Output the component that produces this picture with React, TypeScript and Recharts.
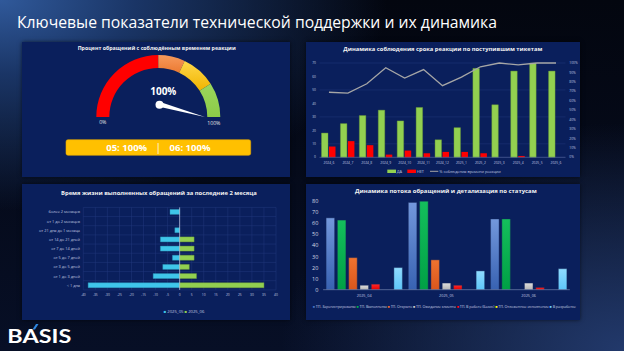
import React from "react";
import {
  BarChart,
  Bar,
  ComposedChart,
  Line,
  XAxis,
  YAxis,
  CartesianGrid,
  PieChart,
  Pie,
  Cell,
  ReferenceLine,
} from "recharts";

const FONT = "'Open Sans', 'Noto Sans', sans-serif";
const PANEL = "#0a1f5c";
const TICK = "#c4cbe0";
const GRID = "#22397c";

// gauge
const gaugeZones = ["red", "orange", "yellow", "green"];
const gaugeShares = [50, 14, 18, 18];
const gaugeFills = ["#ff0000", "url(#gzOrange)", "url(#gzYellow)", "url(#gzGreen)"];
const gaugeValue = 100;
const monthCodes = ["05", "06"];
const monthRates = [100, 100];

// reaction time by month
const months = [
  "2024_6", "2024_7", "2024_8", "2024_9", "2024_10", "2024_11", "2024_12",
  "2025_1", "2025_2", "2025_3", "2025_4", "2025_5", "2025_6",
];
const yesCounts = [18, 25, 31, 35, 27, 37, 13, 22, 66, 39, 64, 70, 64];
const noCounts = [8, 12, 9, 2, 5, 3, 4, 4, 3, 0, 1, 0, 0];
const onTimePct = [69, 68, 78, 95, 84, 93, 76, 85, 96, 100, 98, 100, 100];
const countTicks = [0, 10, 20, 30, 40, 50, 60, 70];
const pctTicks = [0, 10, 20, 30, 40, 50, 60, 70, 80, 90, 100];
const reactionNames = ["ДА", "НЕТ", "% соблюдения времени реакции"];

// lifetime of closed tickets
const lifeBuckets = [
  "более 2 месяцев",
  "от 1 до 2 месяцев",
  "от 21 дня до 1 месяца",
  "от 14 до 21 дней",
  "от 7 до 14 дней",
  "от 5 до 7 дней",
  "от 3 до 5 дней",
  "от 1 до 3 дней",
  "< 1 дня",
];
const lifeMay = [-4, 0, -2, -8, -8, -3, -7, -11, -38];
const lifeJune = [0, 0, 0, 6, 6, 6, 4, 7, 35];
const lifeTicks = [-40, -35, -30, -25, -20, -15, -10, -5, 0, 5, 10, 15, 20, 25, 30, 35, 40];
const lifeSeries = ["2025_05", "2025_06"];
const lifeColors = ["#3fc6ea", "#92d050"];

// ticket flow by status
const flowMonths = ["2025_04", "2025_05", "2025_06"];
const statusNames = [
  "ТП. Зарегистрированы",
  "ТП. Выполнены",
  "ТП. Открыто",
  "ТП. Ожидание клиента",
  "ТП. В работе (Базис)",
  "ТП. Отложенное исполнение",
  "В разработке",
];
const statusColors = ["#4472c4", "#00b050", "#ed6a2c", "#c8c8c8", "#ff0000", "#ffff00", "#66ccff"];
const statusFills = ["url(#fBlue)", "url(#fGreen)", "url(#fOrange)", "url(#fGray)", "url(#fRed)", "#ffff00", "url(#fSky)"];
const registered = [65, 79, 64];
const completed = [63, 80, 64];
const opened = [29, 27, 0];
const waiting = [4, 6, 6];
const inWork = [5, 4, 2];
const postponed = [0, 0, 0];
const inDev = [20, 17, 19];
const flowTicks = [0, 10, 20, 30, 40, 50, 60, 70, 80];

const reactionRows = months.map((m, i) => ({ m, yes: yesCounts[i], no: noCounts[i], pct: onTimePct[i] }));
const lifeRows = lifeBuckets.map((b, i) => ({ b, may: lifeMay[i], jun: lifeJune[i] }));
const flowSeries = [registered, completed, opened, waiting, inWork, postponed, inDev];
const flowRows = flowMonths.map((m, i) => {
  const row: any = { m };
  flowSeries.forEach((s, k) => (row["s" + k] = s[i]));
  return row;
});
const gaugeRows = gaugeZones.map((z, i) => ({ z, v: gaugeShares[i] }));

function Grads() {
  const g = (id: string, a: string, b: string) => (
    <linearGradient id={id} x1="0" y1="0" x2="0" y2="1">
      <stop offset="0%" stopColor={a} />
      <stop offset="100%" stopColor={b} />
    </linearGradient>
  );
  return (
    <svg width={0} height={0} style={{ position: "absolute" }}>
      <defs>
        {g("gzOrange", "#f79a5c", "#ec7a32")}
        {g("gzYellow", "#ffd84a", "#f0b400")}
        {g("gzGreen", "#9bd65c", "#8ccb48")}
        {g("fBlue", "#7398dc", "#3862b2")}
        {g("fGreen", "#14bf5c", "#00a045")}
        {g("fOrange", "#f0732f", "#d9561d")}
        {g("fGray", "#dedede", "#b4b4b4")}
        {g("fRed", "#ff2a2a", "#e40000")}
        {g("fSky", "#8fdbff", "#5ec6fa")}
      </defs>
    </svg>
  );
}

function Panel({ x, y, w, h, children }: any) {
  return (
    <div style={{ position: "absolute", left: x, top: y, width: w, height: h, background: PANEL, boxShadow: "0 0 4px rgba(0,0,0,0.6)" }}>
      {children}
    </div>
  );
}

function Overlay({ w, h, children }: any) {
  return (
    <svg width={w} height={h} style={{ position: "absolute", left: 0, top: 0, pointerEvents: "none" }} fontFamily={FONT}>
      {children}
    </svg>
  );
}

function PanelTitle({ x, y, len, text }: any) {
  return (
    <text x={x} y={y} textAnchor="middle" fontSize={6} fontWeight={700} fill="#f2f2f2" textLength={len} lengthAdjust="spacingAndGlyphs">
      {text}
    </text>
  );
}

// one-line category label (recharts would wrap long ones)
function BucketTick(p: any) {
  return (
    <text x={p.x} y={p.y} dy={1.4} textAnchor="end" fontSize={3.9} fill={TICK} fontFamily={FONT}>
      {p.payload.value}
    </text>
  );
}

// gauge geometry
const GW = 268;
const GH = 135;
const GCX = 136.3;
const GCY = 75;
const G_IN = 49;
const G_OUT = 62;

function GaugePanel() {
  const ang = ((180 - (gaugeValue / 100) * 180) * Math.PI) / 180;
  const tip = { x: GCX + 46.7 * Math.cos(ang), y: GCY - 46.7 * Math.sin(ang) };
  const piv = { x: GCX + 2.7, y: GCY - 12.3 };
  const dx = tip.x - piv.x;
  const dy = tip.y - piv.y;
  const len = Math.hypot(dx, dy);
  const nx = (-dy / len) * 2.3;
  const ny = (dx / len) * 2.3;
  const mid = (G_IN + G_OUT) / 2;
  return (
    <Panel x={22} y={42} w={GW} h={GH}>
      <PieChart width={GW} height={GH} margin={{ top: 0, right: 0, bottom: 0, left: 0 }}>
        <Pie
          data={gaugeRows}
          dataKey="v"
          cx={GCX}
          cy={GCY}
          innerRadius={G_IN}
          outerRadius={G_OUT}
          startAngle={180}
          endAngle={0}
          stroke="none"
          isAnimationActive={false}
        >
          {gaugeRows.map((r, i) => (
            <Cell key={r.z} fill={gaugeFills[i]} />
          ))}
        </Pie>
      </PieChart>
      <Overlay w={GW} h={GH}>
        <PanelTitle x={134.7} y={8} len={158} text="Процент обращений с соблюдённым временем реакции" />
        <text x={GCX - mid} y={81.5} textAnchor="middle" fontSize={5.2} fill="#e0e0e0">0%</text>
        <text x={GCX + mid} y={83} textAnchor="middle" fontSize={5.2} fill="#e0e0e0">100%</text>
        <text x={141.3} y={52.5} textAnchor="middle" fontSize={10} fontWeight={700} fill="#ffffff">{gaugeValue}%</text>
        <polygon
          points={`${piv.x + nx},${piv.y + ny} ${tip.x},${tip.y} ${piv.x - nx},${piv.y - ny}`}
          fill="#ffffff"
        />
        <circle cx={piv.x - 1.5} cy={piv.y} r={4} fill="#ffffff" />
        <rect x={44} y={97.7} width={184.7} height={15.6} rx={2} fill="#ffc000" stroke="#e6a800" strokeWidth={0.6} />
        <text x={104.7} y={108.9} textAnchor="middle" fontSize={9.5} fontWeight={700} fill="#ffffff">
          {monthCodes[0]}: {monthRates[0]}%
        </text>
        <text x={136.3} y={108.9} textAnchor="middle" fontSize={10} fill="#ffffff">|</text>
        <text x={168} y={108.9} textAnchor="middle" fontSize={9.5} fontWeight={700} fill="#ffffff">
          {monthCodes[1]}: {monthRates[1]}%
        </text>
      </Overlay>
    </Panel>
  );
}

function ReactionPanel() {
  const W = 274;
  const H = 135;
  const tick = { fill: TICK, fontSize: 3.3, fontFamily: FONT };
  return (
    <Panel x={306} y={42} w={W} h={H}>
      <ComposedChart width={W} height={H} data={reactionRows} margin={{ top: 21, right: 0, bottom: 11.7, left: 0 }} barGap={1}>
        <CartesianGrid yAxisId="l" vertical={false} stroke={GRID} strokeWidth={0.5} />
        <XAxis
          dataKey="m"
          height={8}
          interval={0}
          tickLine={false}
          tickSize={0}
          tickMargin={4.3}
          axisLine={{ stroke: "#55679c", strokeWidth: 0.6 }}
          tick={tick}
        />
        <YAxis yAxisId="l" width={13.5} domain={[0, 70]} ticks={countTicks} tickLine={false} axisLine={false} tickSize={0} tickMargin={3.5} tick={tick} />
        <YAxis
          yAxisId="r"
          orientation="right"
          width={14.5}
          domain={[0, 100]}
          ticks={pctTicks}
          tickFormatter={(v) => v + "%"}
          tickLine={false}
          axisLine={false}
          tickSize={0}
          tickMargin={3.8}
          tick={{ ...tick, textAnchor: "start" }}
        />
        <Bar yAxisId="l" dataKey="yes" barSize={6.5} fill="#92d050" stroke="#6d9c35" strokeWidth={0.4} isAnimationActive={false} />
        <Bar yAxisId="l" dataKey="no" barSize={6.5} fill="#ff0000" isAnimationActive={false} />
        <Line yAxisId="r" dataKey="pct" type="linear" stroke="#a6a6a6" strokeWidth={1.3} dot={false} isAnimationActive={false} />
      </ComposedChart>
      <Overlay w={W} h={H}>
        <PanelTitle x={136.8} y={8.8} len={199} text="Динамика соблюдения срока реакции по поступившим тикетам" />
        <rect x={81.3} y={127.6} width={8.7} height={3.4} fill="#92d050" />
        <text x={90.7} y={130.8} fontSize={4} fill={TICK}>{reactionNames[0]}</text>
        <rect x={101.3} y={127.6} width={8.7} height={3.4} fill="#ff0000" />
        <text x={110.7} y={130.8} fontSize={4} fill={TICK}>{reactionNames[1]}</text>
        <line x1={124} x2={132.3} y1={129.3} y2={129.3} stroke="#a6a6a6" strokeWidth={1} />
        <text x={133.3} y={130.8} fontSize={4} fill={TICK} textLength={61.4} lengthAdjust="spacingAndGlyphs">{reactionNames[2]}</text>
      </Overlay>
    </Panel>
  );
}

function LifetimePanel() {
  const W = 268;
  const H = 136;
  const rowLines = (p: any) => {
    const o = p && p.offset;
    if (!o) return [];
    return lifeBuckets.concat([""]).map((_, i) => o.top + (i * o.height) / lifeBuckets.length);
  };
  return (
    <Panel x={22} y={184} w={W} h={H}>
      <BarChart
        layout="vertical"
        width={W}
        height={H}
        data={lifeRows}
        stackOffset="sign"
        margin={{ top: 23.4, right: 14, bottom: 22.1, left: 0 }}
      >
        <CartesianGrid stroke={GRID} strokeWidth={0.5} horizontalCoordinatesGenerator={rowLines} />
        <XAxis
          type="number"
          domain={[-40, 40]}
          ticks={lifeTicks}
          height={8}
          interval={0}
          tickLine={false}
          axisLine={false}
          tickSize={0}
          tickMargin={4.2}
          tick={{ fill: TICK, fontSize: 3.3, fontFamily: FONT }}
        />
        <YAxis
          type="category"
          dataKey="b"
          width={61.3}
          interval={0}
          tickLine={false}
          axisLine={false}
          tickSize={0}
          tickMargin={3.3}
          tick={<BucketTick />}
        />
        <Bar dataKey="may" stackId="s" barSize={5} fill={lifeColors[0]} stroke="#2a8fb0" strokeWidth={0.4} isAnimationActive={false} />
        <Bar dataKey="jun" stackId="s" barSize={5} fill={lifeColors[1]} stroke="#6d9c35" strokeWidth={0.4} isAnimationActive={false} />
        <ReferenceLine x={0} stroke="#c8d0e6" strokeWidth={0.7} />
      </BarChart>
      <Overlay w={W} h={H}>
        <PanelTitle x={136.85} y={10.8} len={195.7} text="Время жизни выполненных обращений за последние 2 месяца" />
        <text x={162} y={128.8} textAnchor="middle" fontSize={4.2}>
          {lifeSeries.map((s, i) => (
            <React.Fragment key={s}>
              <tspan fill={lifeColors[i]}>■</tspan>
              <tspan fill={TICK}>{" " + s + (i < lifeSeries.length - 1 ? "   " : "")}</tspan>
            </React.Fragment>
          ))}
        </text>
      </Overlay>
    </Panel>
  );
}

function FlowPanel() {
  const W = 274;
  const H = 136;
  return (
    <Panel x={306} y={184} w={W} h={H}>
      <BarChart width={W} height={H} data={flowRows} barGap={2.8} margin={{ top: 17.3, right: 10.2, bottom: 20.3, left: 0 }}>
        <XAxis
          dataKey="m"
          height={10}
          tickLine={false}
          tickSize={0}
          tickMargin={4.3}
          axisLine={{ stroke: "#8393bd", strokeWidth: 0.6 }}
          tick={{ fill: TICK, fontSize: 3.8, fontFamily: FONT }}
        />
        <YAxis
          width={17.1}
          domain={[0, 80]}
          ticks={flowTicks}
          tickLine={false}
          axisLine={false}
          tickSize={0}
          tickMargin={4.8}
          tick={{ fill: "#d9dce6", fontSize: 5.5, fontFamily: FONT }}
        />
        {statusNames.map((n, k) => (
          <Bar key={n} dataKey={"s" + k} name={n} barSize={8.5} fill={statusFills[k]} stroke="#17285a" strokeWidth={0.4} isAnimationActive={false} />
        ))}
      </BarChart>
      <Overlay w={W} h={H}>
        <PanelTitle x={139.85} y={8.8} len={181.7} text="Динамика потока обращений  и детализация по  статусам" />
        <text x={138.3} y={123.6} textAnchor="middle" fontSize={3.7} textLength={263} lengthAdjust="spacing">
          {statusNames.map((n, i) => (
            <React.Fragment key={n}>
              <tspan fill={statusColors[i]}>■</tspan>
              <tspan fill={TICK}>{" " + n + "  "}</tspan>
            </React.Fragment>
          ))}
        </text>
      </Overlay>
    </Panel>
  );
}

export default function App() {
  return (
    <div
      style={{
        position: "absolute",
        left: 0,
        top: 0,
        width: 624,
        height: 351,
        overflow: "hidden",
        fontFamily: FONT,
        background:
          "radial-gradient(ellipse 62% 60% at 0% 0%, #30599a 0%, #1a3566 35%, rgba(10,20,45,0) 100%), radial-gradient(ellipse 55% 65% at 100% 100%, #22396b 0%, rgba(0,0,0,0) 100%), linear-gradient(180deg, #03060f 0%, #070f26 100%)",
      }}
    >
      <Grads />
      <svg width={624} height={40} style={{ position: "absolute", left: 0, top: 0 }} fontFamily={FONT}>
        <text x={17} y={28} fontSize={17} fill="#ffffff" textLength={480} lengthAdjust="spacingAndGlyphs">
          Ключевые показатели технической поддержки и их динамика
        </text>
      </svg>
      <GaugePanel />
      <ReactionPanel />
      <LifetimePanel />
      <FlowPanel />
      <svg width={90} height={30} style={{ position: "absolute", left: 0, top: 320 }}>
        <text x={7.3} y={23.3} fontSize={18.5} fontWeight={700} fill="#ffffff" fontFamily="Lato, 'Open Sans', sans-serif" textLength={64} lengthAdjust="spacingAndGlyphs">
          BASIS
        </text>
        <polygon points="32.5,9.5 35,9.5 38.5,4 36,4" fill="#2e86e0" />
      </svg>
    </div>
  );
}
